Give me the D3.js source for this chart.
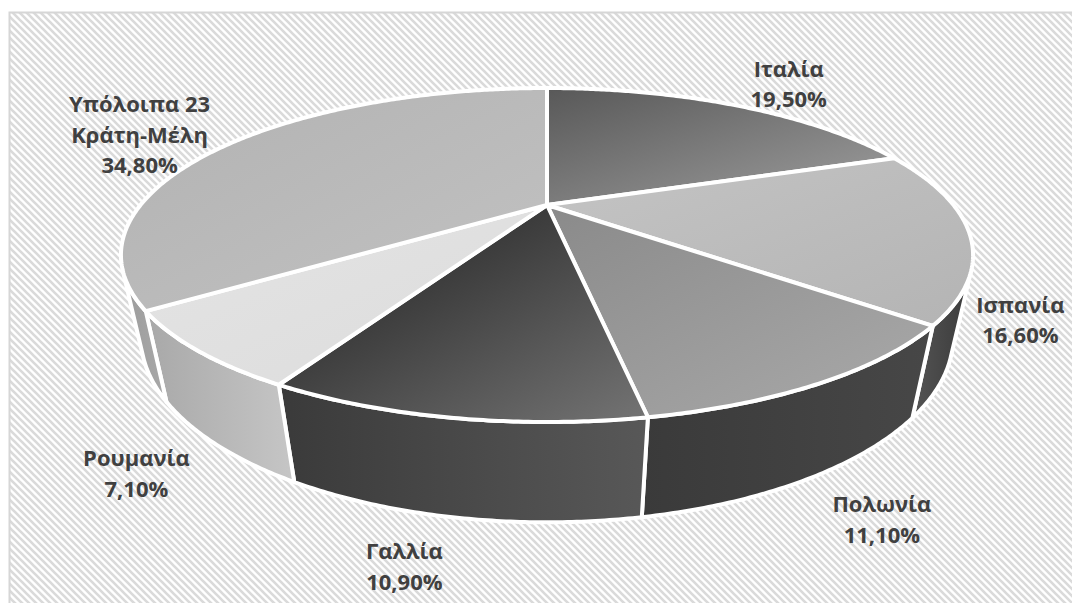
<!DOCTYPE html>
<html>
<head>
<meta charset="utf-8">
<script src="https://cdnjs.cloudflare.com/ajax/libs/d3/7.8.5/d3.min.js"></script>
<style>
  body { margin: 0; background: #fff; }
  .sliceLabel { font-family: "Open Sans", sans-serif; font-weight: 700; font-size: 22px; fill: #404040; }
</style>
</head>
<body>
<div id="pie"></div>
<script>
// data (share of total, %)
var countries = ["Ιταλία", "Ισπανία", "Πολωνία", "Γαλλία", "Ρουμανία", "Υπόλοιπα 23\nΚράτη-Μέλη"];
var shares = [19.5, 16.6, 11.1, 10.9, 7.1, 34.8];

// fills: [from, to] for top face and side wall
var topColors = [["#585858", "#a0a0a0"], ["#c4c4c4", "#b4b4b4"], ["#8a8a8a", "#aaaaaa"],
                 ["#1a1a1a", "#747474"], ["#e4e4e4", "#dcdcdc"], ["#b2b2b2", "#c2c2c2"]];
var sideColors = [["#555555", "#555555"], ["#545454", "#3a3a3a"], ["#3a3a3a", "#474747"],
                  ["#3a3a3a", "#585858"], ["#a8a8a8", "#c6c6c6"], ["#9c9c9c", "#a8a8a8"]];
// label shift from the slice's rim point (mid baseline)
var labelShift = [[54, -13], [51, 95], [60, 145], [-47, 157], [-61, 131], [-90, -1]];

var width = 1072, height = 603;
var cx = 547, cy = 205;          // apex of the pie
var rx = 406.5, ry = 152, tilt = 0.2995;
var vanish = [547, 2068], depth = 0.0427;
var lineGap = 30.5;

var svg = d3.select("#pie")
    .append("svg")
    .attr("width", width)
    .attr("height", height);

var defs = svg.append("defs");

// hatched chart area
var hatch = defs.append("pattern")
    .attr("id", "hatch")
    .attr("patternUnits", "userSpaceOnUse")
    .attr("width", 7)
    .attr("height", 7);
hatch.append("rect").attr("width", 7).attr("height", 7).attr("fill", "#ffffff");
hatch.append("path")
    .attr("d", "M-2,-2L9,9M-2,5L2,9M5,-2L9,2")
    .attr("stroke", "#dadada")
    .attr("stroke-width", 2.6);

svg.append("rect")
    .attr("x", 9.5)
    .attr("y", 12.5)
    .attr("width", 1100)
    .attr("height", 700)
    .attr("fill", "url(#hatch)")
    .attr("stroke", "#d6d6d6")
    .attr("stroke-width", 2);

// perspective of the tilted disc
function topPt(a) {
    var u = Math.sin(a), v = -Math.cos(a), w = 1 - tilt * v;
    return [cx + rx * u / w, cy + ry * v / w, w];
}
function bottomPt(a) {
    var p = topPt(a), s = depth / p[2];
    return [p[0] + (vanish[0] - p[0]) * s, p[1] + (vanish[1] - p[1]) * s];
}
function arcPts(a0, a1, f) {
    var n = Math.max(2, Math.ceil((a1 - a0) / (Math.PI / 360)));
    return d3.range(n + 1).map(i => f(a0 + (a1 - a0) * i / n));
}

// silhouette angles of the wall
var grid = d3.range(0, 3600).map(i => i * Math.PI / 1800);
function lean(a) { var p = topPt(a); return Math.atan2(p[0] - vanish[0], vanish[1] - p[1]); }
var aRight = grid[d3.maxIndex(grid, lean)];
var aLeft = grid[d3.minIndex(grid, lean)];

var pie = d3.pie().sort(null).value(d => d);
var slices = pie(shares);

slices.forEach(function(d, i) {
    var g1 = defs.append("linearGradient").attr("id", "top" + i)
        .attr("x1", 0).attr("y1", 0).attr("x2", 1).attr("y2", 1);
    g1.append("stop").attr("offset", 0).attr("stop-color", topColors[i][0]);
    g1.append("stop").attr("offset", 1).attr("stop-color", topColors[i][1]);
    var g2 = defs.append("linearGradient").attr("id", "side" + i)
        .attr("x1", 0).attr("y1", 0).attr("x2", 1).attr("y2", 0);
    g2.append("stop").attr("offset", 0).attr("stop-color", sideColors[i][0]);
    g2.append("stop").attr("offset", 1).attr("stop-color", sideColors[i][1]);
});

var line = d3.line().curve(d3.curveLinearClosed);
var pieGroup = svg.append("g");

// side walls facing the viewer
slices.forEach(function(d, i) {
    var a0 = Math.max(d.startAngle, aRight), a1 = Math.min(d.endAngle, aLeft);
    if (a1 <= a0) return;
    var pts = arcPts(a0, a1, topPt).concat(arcPts(a0, a1, bottomPt).reverse());
    pieGroup.append("path")
        .attr("d", line(pts))
        .attr("fill", "url(#side" + i + ")")
        .attr("stroke", "#ffffff")
        .attr("stroke-width", 4)
        .attr("stroke-linejoin", "round");
});

// top faces
pieGroup.selectAll("path.top")
    .data(slices)
    .enter()
    .append("path")
    .attr("class", "top")
    .attr("d", d => line([[cx, cy]].concat(arcPts(d.startAngle, d.endAngle, topPt))))
    .attr("fill", (d, i) => "url(#top" + i + ")")
    .attr("stroke", "#ffffff")
    .attr("stroke-width", 4)
    .attr("stroke-linejoin", "round");

// data labels
var fmt = v => d3.format(".2f")(v).replace(".", ",") + "%";

slices.forEach(function(d, i) {
    var rim = topPt((d.startAngle + d.endAngle) / 2);
    var lines = countries[i].split("\n").concat([fmt(shares[i])]);
    var x = rim[0] + labelShift[i][0];
    var y = rim[1] + labelShift[i][1] - (lines.length - 1) * lineGap / 2;
    var text = svg.append("text")
        .attr("class", "sliceLabel")
        .attr("text-anchor", "middle");
    lines.forEach(function(t, j) {
        text.append("tspan").attr("x", x).attr("y", y + j * lineGap).text(t);
    });
});
</script>
</body>
</html>
